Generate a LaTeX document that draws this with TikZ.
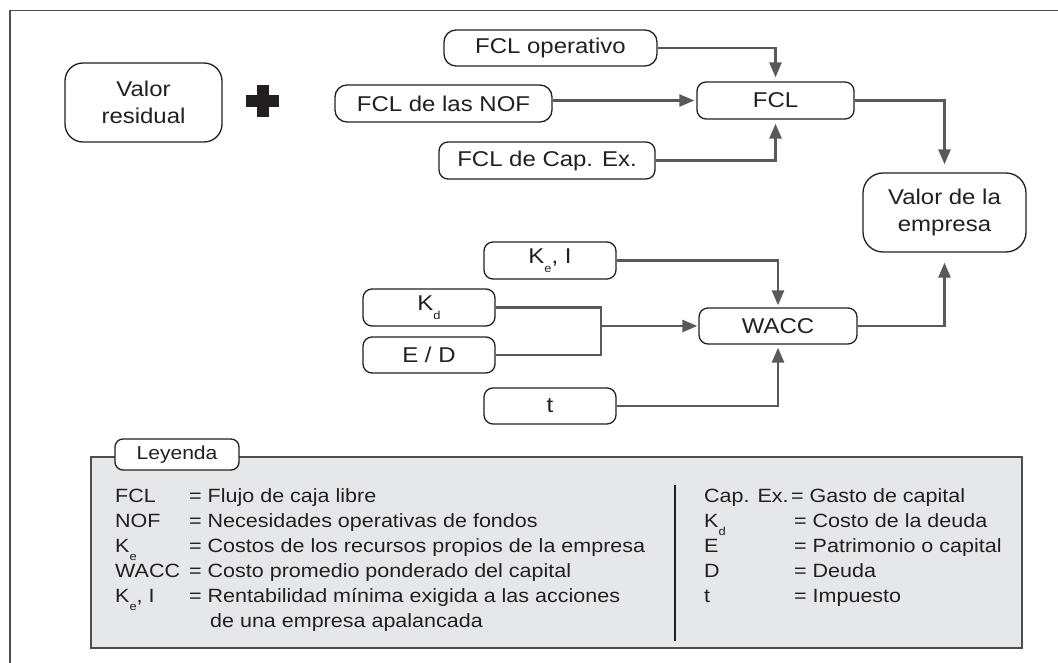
\documentclass[tikz,border=0pt]{standalone}
\usepackage{fontspec}
\setmainfont{Liberation Sans}[FakeStretch=1.12]
\usetikzlibrary{arrows.meta}
\definecolor{txt}{HTML}{231F20}
\definecolor{ln}{HTML}{58595B}
\definecolor{frm}{HTML}{4D4D4F}
\definecolor{legfill}{HTML}{E6E7E8}
\newcommand\sbs[1]{\raisebox{-0.42em}{\fontsize{11.5}{11.5}\selectfont #1}}
\begin{document}
\begin{tikzpicture}[x=1pt,y=-1pt,
  box/.style={draw=txt, line width=1.3pt, rounded corners=9pt, fill=white, text=txt,
    inner sep=0pt, font=\fontsize{21.4}{26.7}\selectfont, align=center},
  big/.style={box, rounded corners=18pt},
  conn/.style={draw=ln, line width=2.6pt},
  arr/.style={conn, -{Triangle[length=15pt,width=12pt]}},
  leg/.style={anchor=base west, inner sep=0pt, text=txt, font=\fontsize{19.2}{19.2}\selectfont}
]
\useasboundingbox (0,0) rectangle (1058,663);
% outer frame (top and left edges only)
\draw[frm, line width=1.5pt] (1058,10.5) -- (10,10.5) -- (10,663);

% upper part
\node[big, minimum width=157pt, minimum height=79pt] (vr) at (143.5,102.5) {Valor\\residual};
\fill[txt] (246,95.5) rectangle (279,107);
\fill[txt] (257.3,85) rectangle (268.7,117.3);

\node[box, rounded corners=12pt, minimum width=213pt, minimum height=36pt] (fop) at (550.5,48) {FCL operativo};
\node[box, rounded corners=12pt, minimum width=217pt, minimum height=37pt] (fnof) at (443.5,103.5) {FCL de las NOF};
\node[box, minimum width=216pt, minimum height=37pt] (fcap) at (547,160.5) {FCL de Cap. Ex.};
\node[box, minimum width=157pt, minimum height=37pt] (fcl) at (775.5,100.5) {FCL};
\node[big, rounded corners=20pt, minimum width=163pt, minimum height=79pt] (ve) at (944.5,212.5) {Valor de la\\empresa};

\draw[arr, shorten >=4pt] (fop.east) -| (fcl.north);
\draw[arr, shorten >=2pt] (fnof.east |- fcl.west) -- (fcl.west);
\draw[arr, shorten >=4pt] (fcap.east) -| (fcl.south);
\draw[arr, shorten >=8pt] (fcl.east) -| (ve.north);

% lower part
\node[box, minimum width=132pt, minimum height=37pt] (kei) at (550,260.5) {K\sbs{e}, I};
\node[box, minimum width=132pt, minimum height=37pt] (kd) at (429,307.5) {K\sbs{d}};
\node[box, minimum width=132pt, minimum height=36pt] (ed) at (429,355) {E / D};
\node[box, minimum width=132pt, minimum height=36pt] (tt) at (550,406) {t};
\node[box, minimum width=158pt, minimum height=36pt] (wacc) at (778,326) {WACC};

\coordinate (j) at (601,326);
\draw[conn] (kd.east) -- (kd.east -| j) -- (ed.east -| j) -- (ed.east);
\draw[arr, shorten >=1pt] (j) -- (wacc.west);
\draw[arr, shorten >=2pt] (kei.east) -| (wacc.north);
\draw[arr, shorten >=3pt] (tt.east) -| (wacc.south);
\draw[arr, shorten >=10pt] (wacc.east) -| (ve.south);

% legend
\node[draw=frm, line width=1.5pt, fill=legfill, minimum width=931pt, minimum height=191pt, inner sep=0pt] (legend) at (556.5,552.5) {};
\node[box, rounded corners=8pt, font=\fontsize{18.8}{18.8}\selectfont, minimum width=124pt, minimum height=31pt] (leyenda) at (177,454.5) {Leyenda};
\draw[txt, line width=1.3pt] (675,485) -- (675,641);

\node[leg] (l1a) at (115,502) {FCL};
\node[leg] (l1b) at (189,502) {= Flujo de caja libre};
\node[leg] (l2a) at (115,527) {NOF};
\node[leg] (l2b) at (189,527) {= Necesidades operativas de fondos};
\node[leg] (l3a) at (115,552) {K\sbs{e}};
\node[leg] (l3b) at (189,552) {= Costos de los recursos propios de la empresa};
\node[leg] (l4a) at (115,577) {WACC};
\node[leg] (l4b) at (189,577) {= Costo promedio ponderado del capital};
\node[leg] (l5a) at (115,602) {K\sbs{e}, I};
\node[leg] (l5b) at (189,602) {= Rentabilidad mínima exigida a las acciones};
\node[leg] (l6b) at (210,627) {de una empresa apalancada};

\node[leg] (r1a) at (704,502) {Cap. Ex.};
\node[leg] (r1b) at (791,502) {= Gasto de capital};
\node[leg] (r2a) at (704,527) {K\sbs{d}};
\node[leg] (r2b) at (794,527) {= Costo de la deuda};
\node[leg] (r3a) at (704,552) {E};
\node[leg] (r3b) at (794,552) {= Patrimonio o capital};
\node[leg] (r4a) at (704,577) {D};
\node[leg] (r4b) at (794,577) {= Deuda};
\node[leg] (r5a) at (704,602) {t};
\node[leg] (r5b) at (794,602) {= Impuesto};
\end{tikzpicture}
\end{document}
